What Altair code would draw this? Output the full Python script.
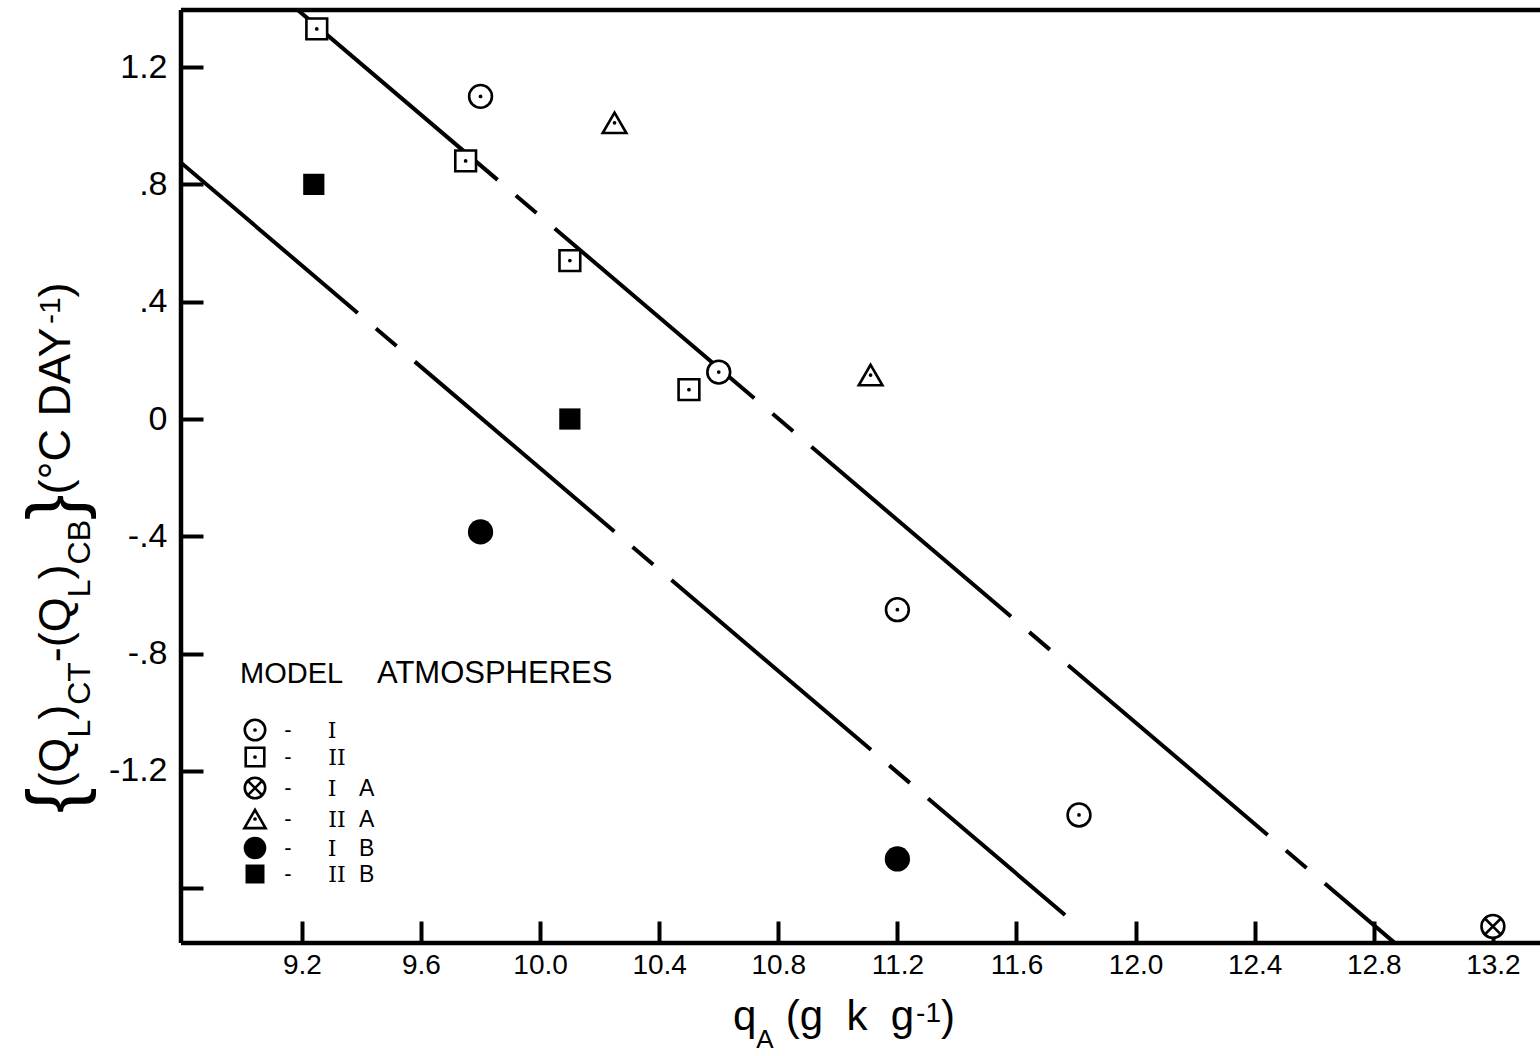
import json
import altair as alt
import pandas as pd

# ---------------- data ----------------
I_x = [9.80, 10.60, 11.20, 11.81]
I_y = [1.10, 0.16, -0.65, -1.35]
II_x = [9.25, 9.75, 10.10, 10.50]
II_y = [1.33, 0.88, 0.54, 0.10]
IA_x = [13.20]
IA_y = [-1.73]
IIA_x = [10.25, 11.11]
IIA_y = [1.01, 0.15]
IB_x = [9.80, 11.20]
IB_y = [-0.385, -1.50]
IIB_x = [9.24, 10.10]
IIB_y = [0.80, 0.00]

upper_x = [9.187, 12.871]
upper_y = [1.394, -1.787]
lower_x = [8.794, 11.763]
lower_y = [0.874, -1.691]

x_ticks = [9.2, 9.6, 10.0, 10.4, 10.8, 11.2, 11.6, 12.0, 12.4, 12.8, 13.2]
x_tick_labels = ["9.2", "9.6", "10.0", "10.4", "10.8", "11.2", "11.6", "12.0", "12.4", "12.8", "13.2"]
y_ticks = [1.2, 0.8, 0.4, 0.0, -0.4, -0.8, -1.2, -1.6]
y_tick_labels = ["1.2", ".8", ".4", "0", "-.4", "-.8", "-1.2", ""]

legend_words = ["MODEL", "ATMOSPHERES"]
legend_series = ["I", "II", "IA", "IIA", "IB", "IIB"]
legend_numerals = ["I", "II", "I", "II", "I", "II"]
legend_suffix = ["", "", "A", "A", "B", "B"]

# ---------------- layout ----------------
L, T, W, H = 181, 10, 1359, 933
PXX, PXY = 297.75, 293.3
X0 = 8.794
X1 = X0 + W / PXX
Y1 = 1.3945
Y0 = Y1 - H / PXY
FONT = "Liberation Sans"
NB = "\u00a0"

xs = alt.Scale(domain=[X0, X1], nice=False, zero=False)
ys = alt.Scale(domain=[Y0, Y1], nice=False, zero=False)
dummy = pd.DataFrame({"a": [0]})

x_axis = alt.Axis(values=x_ticks, labelExpr=json.dumps(x_tick_labels).replace('"', "'") + "[round((datum.value - 9.2) / 0.4)]",
                  offset=-22, tickSize=22, tickWidth=4, tickColor="black", domain=False, grid=False,
                  labelFont=FONT, labelFontSize=28, labelColor="black", labelPadding=8, labelOverlap=False,
                  labelFlush=False, title=None)
y_axis = alt.Axis(values=y_ticks, labelExpr=json.dumps(y_tick_labels).replace('"', "'") + "[round((1.2 - datum.value) / 0.4)]",
                  offset=-22, tickSize=22, tickWidth=4, tickColor="black", domain=False, grid=False,
                  labelFont=FONT, labelFontSize=34, labelColor="black", labelPadding=14, labelOverlap=False,
                  labelFlush=False, title=None)


def X():
    return alt.X("x:Q", scale=xs, axis=x_axis)


def Y():
    return alt.Y("y:Q", scale=ys, axis=y_axis)


def line_layer(xv, yv, offset):
    df = pd.DataFrame({"x": xv, "y": yv})
    return alt.Chart(df).mark_line(color="black", strokeWidth=4, strokeDash=[262, 24, 27, 24],
                                   strokeDashOffset=offset, clip=True).encode(x=X(), y=Y())


XPATH = "M-0.72,-0.72L0.72,0.72M-0.72,0.72L0.72,-0.72"
OPEN = dict(filled=True, fill="white", stroke="black", strokeWidth=2.6, opacity=1, fillOpacity=1)
DOT = dict(shape="circle", size=14, filled=True, fill="black", strokeWidth=0, opacity=1)


def marks_for(series, legend=False):
    k = 0.8 if legend else 1.0
    if series == "I":
        return [dict(shape="circle", size=520 * k, **OPEN), DOT]
    if series == "II":
        return [dict(shape="square", size=430 * k, **OPEN), DOT]
    if series == "IA":
        return [dict(shape="circle", size=520 * k, **OPEN),
                dict(shape=XPATH, size=520 * k, filled=False, stroke="black", strokeWidth=2.6, opacity=1)]
    if series == "IIA":
        return [dict(shape="triangle-up", size=560 * k, **OPEN), DOT]
    if series == "IB":
        return [dict(shape="circle", size=640 * k, filled=True, fill="black", strokeWidth=0, opacity=1)]
    return [dict(shape="square", size=450 * k, filled=True, fill="black", strokeWidth=0, opacity=1)]


series_data = {"I": (I_x, I_y), "II": (II_x, II_y), "IA": (IA_x, IA_y),
               "IIA": (IIA_x, IIA_y), "IB": (IB_x, IB_y), "IIB": (IIB_x, IIB_y)}

layers = [line_layer(upper_x, upper_y, 0), line_layer(lower_x, lower_y, 30)]

for s, (xv, yv) in series_data.items():
    df = pd.DataFrame({"x": xv, "y": yv})
    for m in marks_for(s):
        layers.append(alt.Chart(df).mark_point(**m).encode(x=X(), y=Y()))

# frame (left, top, bottom)
for enc in [dict(x=alt.value(0), x2=alt.value(W), y=alt.value(0)),
            dict(x=alt.value(0), y=alt.value(0), y2=alt.value(H)),
            dict(x=alt.value(0), x2=alt.value(W), y=alt.value(H))]:
    layers.append(alt.Chart(dummy).mark_rule(color="black", strokeWidth=4.5).encode(**enc))


def txt(s, px, py, size, font=FONT, angle=None, align="left", baseline="alphabetic", weight=None):
    kw = dict(text=s, font=font, fontSize=size, align=align, baseline=baseline, color="black")
    if angle is not None:
        kw["angle"] = angle
    if weight is not None:
        kw["fontWeight"] = weight
    return alt.Chart(dummy).mark_text(**kw).encode(x=alt.value(px - L), y=alt.value(py - T))


# approximate advance widths (Helvetica metrics, em)
WT = {"(": 0.333, ")": 0.333, "Q": 0.778, "L": 0.556, "C": 0.722, "T": 0.611, "B": 0.667, "-": 0.333,
      "{": 0.334, "}": 0.334, "\u00b0": 0.4, " ": 0.278, NB: 0.278, "D": 0.722, "A": 0.667, "Y": 0.667,
      "1": 0.556, "q": 0.556, "g": 0.556, "k": 0.5}


def tw(s, size):
    return sum(WT.get(c, 0.556) for c in s) * size


# y-axis title, built from pieces (rotated, reading upward)
ystyle = {"main": (45, 70), "sub": (32, 90), "sup": (30, 60), "brace": (76, 80)}
ypieces = [("{", "brace"), ("(Q", "main"), ("L", "sub"), (")", "main"), ("CT", "sub"), ("-", "main"),
           ("(Q", "main"), ("L", "sub"), (")", "main"), ("CB", "sub"), ("}", "brace"),
           ("(\u00b0C" + NB + "DAY", "main"), ("-1", "sup"), (")", "main")]
cy = 813
for s, kind in ypieces:
    size, bx = ystyle[kind]
    layers.append(txt(s, bx, cy, size, angle=270))
    cy -= tw(s, size)

# x-axis title
xstyle = {"main": (42, 1030), "sub": (26, 1048), "sup": (28, 1022)}
xpieces = [("q", "main", 0), ("A", "sub", 0), ("(g" + NB + NB + "k" + NB + NB + "g", "main", 12),
           ("-1", "sup", 2), (")", "main", 0)]
cx = 733
for s, kind, gap in xpieces:
    size, by = xstyle[kind]
    cx += gap
    layers.append(txt(s, cx, by, size))
    cx += tw(s, size)

# legend
layers.append(txt(legend_words[0], 240, 683, 29))
layers.append(txt(legend_words[1], 377, 683, 31))
row_y = [730, 757, 788, 819, 848, 874]
for i, s in enumerate(legend_series):
    ry = row_y[i]
    for m in marks_for(s, legend=True):
        layers.append(alt.Chart(dummy).mark_point(**m).encode(x=alt.value(255 - L), y=alt.value(ry - T)))
    layers.append(txt("-", 288, ry, 22, align="center", baseline="middle"))
    nx = 332 if legend_numerals[i] == "I" else 337
    layers.append(txt(legend_numerals[i], nx, ry + 8, 22, font="DejaVu Serif", align="center"))
    if legend_suffix[i]:
        layers.append(txt(legend_suffix[i], 359, ry + 8, 23))

chart = alt.layer(*layers).properties(
    width=W, height=H,
    padding={"left": L, "top": T, "right": 0, "bottom": 1056 - T - H},
    autosize=alt.AutoSizeParams(type="none"),
    background="white",
).configure_view(stroke=None)

chart.save("out.html", embed_options={"renderer": "svg", "actions": False})
